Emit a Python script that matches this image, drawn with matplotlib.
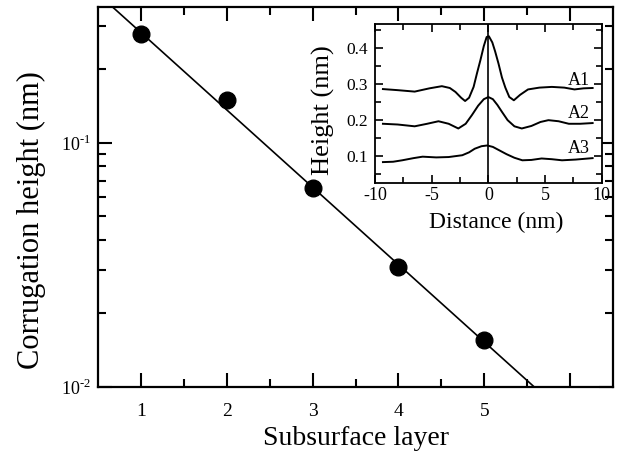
import numpy as np
import matplotlib
matplotlib.use("Agg")
import matplotlib.pyplot as plt
from matplotlib.ticker import FixedLocator, LogLocator, NullFormatter, MultipleLocator, FixedFormatter

plt.rcParams['font.family'] = ['Liberation Serif', 'DejaVu Serif']
plt.rcParams['mathtext.fontset'] = 'custom'
plt.rcParams['mathtext.rm'] = 'Liberation Serif'
plt.rcParams['axes.unicode_minus'] = False

# Main data
layers = [1, 2, 3, 4, 5]
corrugation = [0.28, 0.149, 0.0655, 0.031, 0.0155]
fit_x = [0.5, 6.5]
fit_logy0 = -0.39   # log10 at x=0.5
fit_slope = -0.317  # per layer

# Inset profiles
a1_x = [-9.3, -8.0, -6.5, -5.2, -4.1, -3.4, -2.9, -2.4, -2.05, -1.7, -1.3, -1.0, -0.7, -0.4, -0.15, 0.05, 0.35, 0.6, 0.9, 1.2, 1.5, 1.85, 2.25, 2.8, 3.5, 4.5, 5.6, 6.7, 7.6, 8.4, 9.2]
a1_y = [0.286, 0.283, 0.279, 0.288, 0.294, 0.289, 0.278, 0.262, 0.253, 0.262, 0.292, 0.33, 0.366, 0.405, 0.43, 0.432, 0.415, 0.39, 0.356, 0.318, 0.29, 0.264, 0.255, 0.27, 0.285, 0.29, 0.292, 0.29, 0.285, 0.288, 0.289]
a2_x = [-9.3, -8.0, -6.5, -5.4, -4.4, -3.5, -2.65, -2.0, -1.45, -0.9, -0.4, 0.0, 0.4, 0.8, 1.2, 1.7, 2.3, 2.95, 3.8, 4.6, 5.3, 6.2, 7.1, 8.1, 9.2]
a2_y = [0.19, 0.188, 0.183, 0.19, 0.197, 0.19, 0.177, 0.19, 0.214, 0.24, 0.258, 0.264, 0.258, 0.242, 0.223, 0.2, 0.183, 0.177, 0.184, 0.195, 0.2, 0.197, 0.19, 0.19, 0.192]
a3_x = [-9.3, -8.4, -7.6, -6.6, -5.8, -4.6, -3.5, -2.3, -1.7, -1.2, -0.6, -0.1, 0.4, 1.0, 1.6, 2.3, 3.0, 3.8, 4.7, 5.6, 6.5, 7.7, 9.2]
a3_y = [0.084, 0.085, 0.089, 0.095, 0.099, 0.097, 0.098, 0.103, 0.111, 0.121, 0.128, 0.13, 0.126, 0.116, 0.106, 0.096, 0.089, 0.09, 0.094, 0.092, 0.089, 0.091, 0.095]
profile_labels = ['A1', 'A2', 'A3']
label_y = [0.31, 0.219, 0.123]

W, H = 618, 457
fig = plt.figure(figsize=(6.18, 4.57), dpi=100)
ax = fig.add_axes([0.1586, 0.1538, 0.8334, 0.8309])

fx = np.array(fit_x)
fy = 10 ** (fit_logy0 + fit_slope * (fx - fit_x[0]))
ax.plot(fx, fy, color='black', lw=1.2, zorder=2)
ax.plot(layers, corrugation, 'o', color='black', ms=12, zorder=3)

ax.set_yscale('log')
ax.set_xlim(0.5, 6.5)
ax.set_ylim(0.01, 0.36)
ax.set_xticks([1, 2, 3, 4, 5, 6])
ax.set_xticklabels(['1', '2', '3', '4', '5', ''])
ax.xaxis.set_minor_locator(FixedLocator([1.5, 2.5, 3.5, 4.5, 5.5]))
ax.yaxis.set_major_locator(FixedLocator([0.01, 0.1]))
ax.yaxis.set_major_formatter(FixedFormatter(['10$^{\u2010\\mathdefault{2}}$', '10$^{\u2010\\mathdefault{1}}$']))
ax.yaxis.set_minor_locator(LogLocator(base=10, subs=np.arange(2, 10)))
ax.yaxis.set_minor_formatter(NullFormatter())
ax.tick_params(which='both', direction='in', top=True, right=True, width=1.5, labelsize=14)
ax.tick_params(which='major', length=10, pad=12)
ax.tick_params(which='minor', length=6)
ax.tick_params(axis='y', which='major', pad=5, labelsize=13)
for s in ax.spines.values():
    s.set_linewidth(1.6)
ax.set_xlabel('Subsurface layer', fontsize=20, labelpad=4)
fig.text(31 / W, 1 - 220 / H, 'Corrugation height (nm)', fontsize=22,
         rotation=90, ha='center', va='center')

ins = fig.add_axes([0.6068, 0.6002, 0.3668, 0.3473])
ins.plot(a1_x, a1_y, color='black', lw=1.4)
ins.plot(a2_x, a2_y, color='black', lw=1.4)
ins.plot(a3_x, a3_y, color='black', lw=1.4)
ins.axvline(0, color='black', lw=1.2)
for lab, ly in zip(profile_labels, label_y):
    ins.text(8.0, ly, lab, fontsize=13, ha='center', va='center')
ins.set_xlim(-10, 10)
ins.set_ylim(0.027, 0.466)
ins.set_xticks([-10, -5, 0, 5, 10])
ins.set_xticklabels(['-10', '-5', '0', '5', '10'])
ins.set_yticks([0.1, 0.2, 0.3, 0.4])
ins.set_yticklabels(['0.1', '0.2', '0.3', '0.4'])
ins.xaxis.set_minor_locator(MultipleLocator(2.5))
ins.yaxis.set_minor_locator(MultipleLocator(0.05))
ins.tick_params(which='both', direction='in', top=True, right=True, width=1.2, labelsize=13)
ins.tick_params(which='major', length=6, pad=3)
ins.tick_params(which='minor', length=4)
ins.tick_params(axis='y', which='major', pad=5, labelsize=12.5)
for s in ins.spines.values():
    s.set_linewidth(1.3)
fig.text(496 / W, 1 - 222 / H, 'Distance (nm)', fontsize=17, ha='center', va='center')
fig.text(323 / W, 1 - 110 / H, 'Height (nm)', fontsize=19, rotation=90, ha='center', va='center')

fig.savefig('out.png', dpi=100)
